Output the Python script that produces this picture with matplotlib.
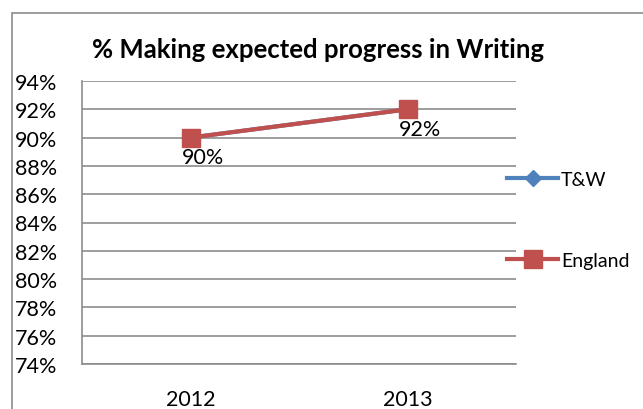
import matplotlib
matplotlib.use("Agg")
import matplotlib.pyplot as plt
from matplotlib.patches import Rectangle
from matplotlib.ticker import FuncFormatter

categories = ["2012", "2013"]
tw_values = [90, 92]
england_values = [90, 92]
y_ticks = list(range(74, 95, 2))

plt.rcParams['font.family'] = ['Lato', 'DejaVu Sans']

W, H = 643, 410
fig = plt.figure(figsize=(W / 100, H / 100), dpi=100)

# outer chart border (left and top visible)
fig.patches.append(Rectangle((12 / W, -0.1), 1.2, (H - 14) / H + 0.1,
                             transform=fig.transFigure, fill=False,
                             edgecolor="#8c8c8c", linewidth=1.2))

ax = fig.add_axes([82 / W, 1 - 365 / H, (516 - 82) / W, (365 - 82) / H])
x = [0, 1]
ax.set_xlim(-0.5, 1.5)
ax.set_ylim(74, 94)
ax.set_yticks(y_ticks)
ax.yaxis.set_major_formatter(FuncFormatter(lambda v, p: f"{int(v)}%"))
ax.set_xticks(x)
ax.set_xticklabels(categories)
ax.grid(axis="y", color="#8c8c8c", linewidth=1.2)
ax.set_axisbelow(True)
for s in ["top", "right"]:
    ax.spines[s].set_visible(False)
for s in ["left", "bottom"]:
    ax.spines[s].set_color("#8c8c8c")
    ax.spines[s].set_linewidth(1.2)
ax.tick_params(axis="both", length=0, labelsize=15.5)
ax.tick_params(axis="x", pad=18)
ax.tick_params(axis="y", pad=(82 - 15) * 0.72)
for lab in ax.get_yticklabels():
    lab.set_horizontalalignment("left")

l1, = ax.plot(x, tw_values, color="#4F81BD", linewidth=3, marker="D",
              markersize=8, label="T&W")
l2, = ax.plot(x, england_values, color="#C0504D", linewidth=3, marker="s",
              markersize=13, label="England")

for xi, v in zip(x, england_values):
    ax.annotate(f"{v}%", (xi, v), xytext=(-6, -7), textcoords="offset points",
                ha="left", va="top", fontsize=15.5)

fig.text(318 / W, 1 - 50 / H, "% Making expected progress in Writing",
         ha="center", va="center", fontsize=18.5, fontweight="bold")

fig.legend(handles=[l1, l2], loc="center left",
           bbox_to_anchor=(490 / W, 1 - 221 / H), frameon=False,
           fontsize=14, labelspacing=3.3, handlelength=2.6,
           handletextpad=0.15)

fig.savefig("out.png", dpi=100)
